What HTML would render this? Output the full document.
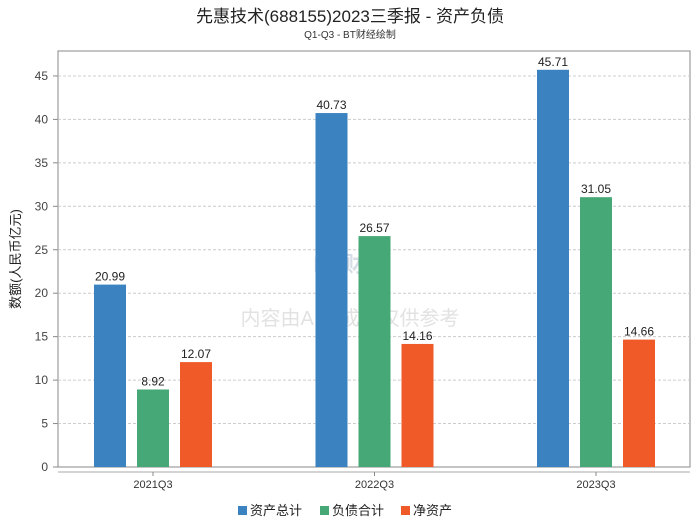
<!DOCTYPE html>
<html><head><meta charset="utf-8"><style>
body{margin:0;background:#fff;font-family:"Liberation Sans","Noto Sans CJK SC",sans-serif;}
svg text{font-family:"Liberation Sans","Noto Sans CJK SC",sans-serif;}
</style></head><body>
<svg id="c" width="700" height="524" xmlns="http://www.w3.org/2000/svg">
<text x="350" y="22" text-anchor="middle" font-size="17" fill="#222">先惠技术(688155)2023三季报 - 资产负债</text>
<text x="350" y="38" text-anchor="middle" font-size="10" fill="#333">Q1-Q3 - BT财经绘制</text>
<text x="350" y="272" text-anchor="middle" font-size="22" fill="#d8dee6" font-weight="bold">BT财经</text>
<text x="350" y="325" text-anchor="middle" font-size="20" fill="#e2e2e2">内容由AI生成，仅供参考</text>
<rect x="58" y="51" width="632" height="416" fill="none" stroke="#888"/>
<line x1="58" y1="472" x2="690" y2="472" stroke="#aaa"/>
<text transform="translate(20,259) rotate(-90)" text-anchor="middle" font-size="13" fill="#222">数额(人民币亿元)</text>
<g id="grid"></g><g id="bars"></g>
<g>
<rect x="238" y="506" width="9" height="9" fill="#3a82c0"/>
<text x="250" y="515" font-size="13" fill="#222">资产总计</text>
<rect x="320" y="506" width="9" height="9" fill="#45a876"/>
<text x="332" y="515" font-size="13" fill="#222">负债合计</text>
<rect x="401" y="506" width="9" height="9" fill="#f05a28"/>
<text x="413" y="515" font-size="13" fill="#222">净资产</text>
</g>
</svg>
<script>
const categories=["2021Q3","2022Q3","2023Q3"];
const assets=[20.99,40.73,45.71];
const liabilities=[8.92,26.57,31.05];
const equity=[12.07,14.16,14.66];
const yTicks=[0,5,10,15,20,25,30,35,40,45];
const NS="http://www.w3.org/2000/svg";
const y=v=>467-v*8.69;
const xc=i=>153+i*221.5;
const grid=document.getElementById('grid'),bars=document.getElementById('bars');
function mk(tag,attrs,parent){const e=document.createElementNS(NS,tag);for(const k in attrs)e.setAttribute(k,attrs[k]);parent.appendChild(e);return e;}
yTicks.forEach(t=>{
 if(t>0){const l=mk('line',{x1:58,x2:690,y1:y(t),y2:y(t),stroke:'#ccc','stroke-dasharray':'3,2'},grid);
 
 }
 const tk=mk('line',{x1:53,x2:58,y1:y(t),y2:y(t),stroke:'#888'},grid);
 
 
 const tx=mk('text',{x:48,y:y(t)+4,'text-anchor':'end','font-size':12,fill:'#444'},grid);tx.textContent=t;
 
 
});
const series=[[assets,'#3a82c0',-43,'assets'],[liabilities,'#45a876',0,'liabilities'],[equity,'#f05a28',43,'equity']];
categories.forEach((c,i)=>{
 const tk=mk('line',{x1:xc(i),x2:xc(i),y1:472,y2:476,stroke:'#888'},grid);
 
 
 const tl=mk('text',{x:xc(i),y:488,'text-anchor':'middle','font-size':11,fill:'#333'},grid);tl.textContent=c;
 
 
 series.forEach(([arr,col,off,nm])=>{
  const v=arr[i],cx=xc(i)+off;
  const r=mk('rect',{x:cx-16,y:y(v),width:32,height:467-y(v),fill:col},bars);
  
  
  const t=mk('text',{x:cx,y:y(v)-4,'text-anchor':'middle','font-size':12,fill:'#222'},bars);t.textContent=v.toFixed(2);
  
  
 });
});
</script>
</body></html>
